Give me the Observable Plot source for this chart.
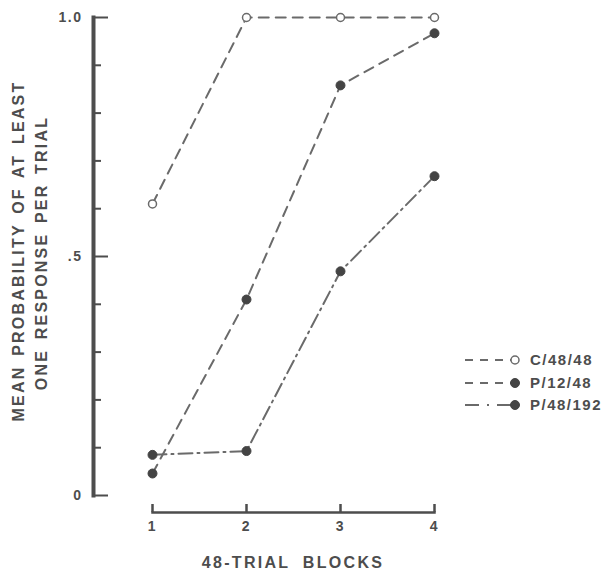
<!DOCTYPE html>
<html><head><meta charset="utf-8">
<script src="https://cdn.jsdelivr.net/npm/d3@7"></script>
<script src="https://cdn.jsdelivr.net/npm/@observablehq/plot@0.6"></script>
<style>
body{margin:0;background:#fff}
#chart{position:relative;width:611px;height:574px}
</style>
</head><body><div id="chart"></div>
<script>
// ---- data ----
const blocks = [1, 2, 3, 4];
const seriesNames = ["C/48/48", "P/12/48", "P/48/192"];
const c48_48 = [0.61, 1.0, 1.0, 1.0];
const p12_48 = [0.046, 0.41, 0.858, 0.967];
const p48_192 = [0.085, 0.093, 0.469, 0.668];
const yMajorTicks = [0, 0.5, 1];
const yMajorLabels = ["0", ".5", "1.0"];
const yMinorTicks = [0.1, 0.2, 0.3, 0.4, 0.6, 0.7, 0.8, 0.9];
const xTicks = [1, 2, 3, 4];
const xTitle = "48-TRIAL BLOCKS";
const yTitle1 = "MEAN PROBABILITY OF AT LEAST";
const yTitle2 = "ONE RESPONSE PER TRIAL";

// ---- styling ----
const ink = "#4d4d4d";
const lineInk = "#6a6a6a";
const font = "'Liberation Sans', Arial, Helvetica, sans-serif";
const seriesValues = [c48_48, p12_48, p48_192];
const dashes = ["10,7", "10,7", "14,5,2,5"];
const hollow = [true, false, false];

const rows = [];
seriesNames.forEach((s, i) => blocks.forEach((b, j) => rows.push({series: s, block: b, value: seriesValues[i][j]})));

const marks = [
  Plot.frame({anchor: "left", insetBottom: 17, stroke: ink, strokeWidth: 4}),
  Plot.frame({anchor: "bottom", insetLeft: 59, stroke: ink, strokeWidth: 2.5}),
  Plot.axisY(yMajorTicks, {tickSize: -15, strokeWidth: 2, stroke: ink, tickFormat: () => "", label: null}),
  Plot.axisY(yMinorTicks, {tickSize: -8, strokeWidth: 2, stroke: ink, tickFormat: () => "", label: null}),
  Plot.axisY(yMajorTicks, {tickSize: 0, tickPadding: 11, fontSize: 14, fill: ink,
    tickFormat: d => yMajorLabels[yMajorTicks.indexOf(d)], label: null}),
  Plot.axisX(xTicks, {tickSize: -8, strokeWidth: 2.5, stroke: ink, tickFormat: () => "", label: null}),
  Plot.axisX(xTicks, {tickSize: 0, tickPadding: 9, fontSize: 14, fill: ink, tickFormat: d => String(d), label: null}),
  Plot.text([xTitle], {text: d => d, frameAnchor: "bottom", textAnchor: "middle", dx: 29, dy: 55, fontSize: 16, fill: ink}),
  Plot.text([yTitle1], {text: d => d, frameAnchor: "left", textAnchor: "middle", rotate: -90, dx: -74.5, dy: -14, fontSize: 16, fill: ink}),
  Plot.text([yTitle2], {text: d => d, frameAnchor: "left", textAnchor: "middle", rotate: -90, dx: -52, dy: -12, fontSize: 16, fill: ink})
];
seriesNames.forEach((s, i) => {
  const d = rows.filter(r => r.series === s);
  marks.push(Plot.line(d, {x: "block", y: "value", stroke: lineInk, strokeWidth: 2, strokeDasharray: dashes[i]}));
  marks.push(Plot.dot(d, {x: "block", y: "value", r: hollow[i] ? 4 : 4.5,
    fill: hollow[i] ? "white" : "#444", stroke: hollow[i] ? lineInk : "#444", strokeWidth: hollow[i] ? 1.5 : 1}));
});

const svg = Plot.plot({
  width: 611, height: 574,
  marginLeft: 93, marginRight: 177, marginTop: 17, marginBottom: 62,
  x: {domain: [1, 4], range: [152, 434], label: null},
  y: {domain: [0, 1], range: [495, 17], label: null},
  style: {fontFamily: font, fontWeight: "bold", color: ink, background: "white", overflow: "visible"},
  marks
});

// letter spacing on texts
d3.select(svg).selectAll("text").each(function() {
  const t = this.textContent;
  const sel = d3.select(this);
  if (t === yTitle1 || t === yTitle2) sel.style("letter-spacing", "2.2px").style("word-spacing", "3px");
  else if (t === xTitle) sel.style("letter-spacing", "2.3px").style("word-spacing", "6px");
  else sel.style("letter-spacing", "1.5px");
});

// legend drawn inside the same svg
const legendY = [360, 383, 405];
const lg = d3.select(svg).append("g").attr("font-family", font).attr("font-weight", "bold").attr("font-size", 15);
seriesNames.forEach((s, i) => {
  const g = lg.append("g").attr("transform", `translate(0,${legendY[i]})`);
  g.append("line").attr("x1", 465).attr("x2", 512).attr("y1", 0).attr("y2", 0)
    .attr("stroke", lineInk).attr("stroke-width", 2).attr("stroke-dasharray", i === 2 ? "14,8,2,8" : "8,7");
  g.append("circle").attr("cx", 515).attr("cy", 0).attr("r", hollow[i] ? 4 : 4.5)
    .attr("fill", hollow[i] ? "white" : "#444").attr("stroke", hollow[i] ? lineInk : "#444").attr("stroke-width", hollow[i] ? 1.5 : 1);
  g.append("text").attr("x", 530).attr("y", 0).attr("dy", "0.35em").attr("fill", ink)
    .attr("text-anchor", "start").style("letter-spacing", "1.5px").text(s);
});

document.getElementById("chart").appendChild(svg);
</script>
</body></html>
